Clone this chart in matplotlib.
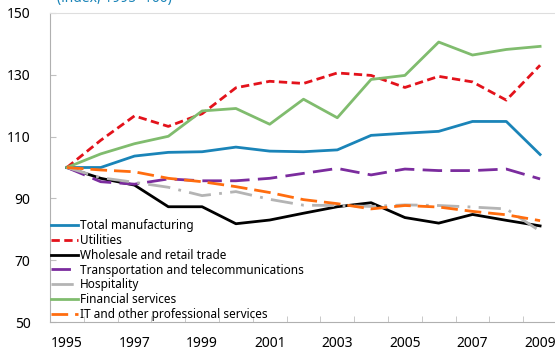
import matplotlib
matplotlib.use("Agg")
import matplotlib.pyplot as plt
import numpy as np

plt.rcParams['font.family'] = ['Noto Sans', 'DejaVu Sans']

years = list(range(1995, 2010))

manufacturing = [100, 100, 103.7, 104.9, 105.1, 106.6, 105.3, 105.1, 105.7,
                 110.4, 111.1, 111.7, 114.9, 114.9, 104.2]
utilities = [100, 108.8, 116.7, 113.3, 117.4, 125.8, 127.9, 127.2, 130.6,
             129.8, 125.9, 129.5, 127.7, 121.8, 133.1]
wholesale = [100, 96.5, 94.3, 87.3, 87.3, 81.8, 83.0, 85.2, 87.3,
             88.6, 83.8, 82.0, 84.8, 82.9, 81.1]
transport = [100, 95.4, 94.6, 96.3, 95.7, 95.7, 96.5, 98.1, 99.7,
             97.6, 99.5, 99.0, 99.0, 99.5, 96.3]
hospitality = [100, 96.7, 95.2, 93.6, 90.9, 92.2, 89.7, 87.8, 87.7,
               87.4, 87.9, 87.7, 87.2, 86.6, 79.4]
financial = [100, 104.4, 107.7, 110.1, 118.3, 119.1, 114.0, 122.1, 116.1,
             128.5, 129.8, 140.6, 136.4, 138.2, 139.2]
it_services = [100, 99.2, 98.6, 96.5, 95.4, 93.8, 91.9, 89.6, 88.3,
               86.6, 87.7, 87.2, 85.8, 84.7, 82.8]

fig = plt.figure(figsize=(5.55, 3.54), dpi=100)
ax = fig.add_axes([50 / 555, 32 / 354, 507 / 555, 309 / 354])

lw = 2.0
ax.plot(years, manufacturing, color='#1a84b8', lw=lw, label='Total manufacturing')
ax.plot(years, utilities, color='#e3121b', lw=lw, dashes=(3, 1.6), label='Utilities')
ax.plot(years, wholesale, color='#000000', lw=lw, label='Wholesale and retail trade')
ax.plot(years, transport, color='#7b2c9e', lw=lw, dashes=(7, 3), label='Transportation and telecommunications')
ax.plot(years, hospitality, color='#b4b4b4', lw=lw, dashes=(8, 3, 1, 3), label='Hospitality')
ax.plot(years, financial, color='#80bc6e', lw=lw, label='Financial services')
ax.plot(years, it_services, color='#ff6d0f', lw=lw, dashes=(6, 2.5), label='IT and other professional services')

ax.set_xlim(1994.5, 2009.5)
ax.set_ylim(50, 150)
ax.set_yticks([50, 70, 90, 110, 130, 150])
ax.set_xticks(years[::2])
ax.set_xticks(np.arange(1994.5, 2010, 1), minor=True)
ax.tick_params(axis='x', which='major', length=0, pad=10, labelsize=10)
ax.tick_params(axis='x', which='minor', direction='in', length=4, color='#c0c0c0')
ax.tick_params(axis='y', direction='in', length=4, color='#c0c0c0', pad=14, labelsize=10)

for side in ['left', 'bottom']:
    ax.spines[side].set_color('#b0b0b0')
ax.spines['top'].set_color('#dedede')
ax.spines['right'].set_visible(False)

leg = ax.legend(loc='lower left', bbox_to_anchor=(0.0, 0.0), frameon=False,
                fontsize=8.5, handlelength=2.3, handletextpad=0.1,
                labelspacing=0.15, borderaxespad=0.0, borderpad=0.1)
for line in leg.get_lines():
    line.set_linewidth(2.0)

fig.text(57 / 555, 1 - 2 / 354, '(index, 1995=100)', color='#1a84b8',
         fontsize=10, va='baseline', ha='left')

fig.savefig('out.png', dpi=100)
